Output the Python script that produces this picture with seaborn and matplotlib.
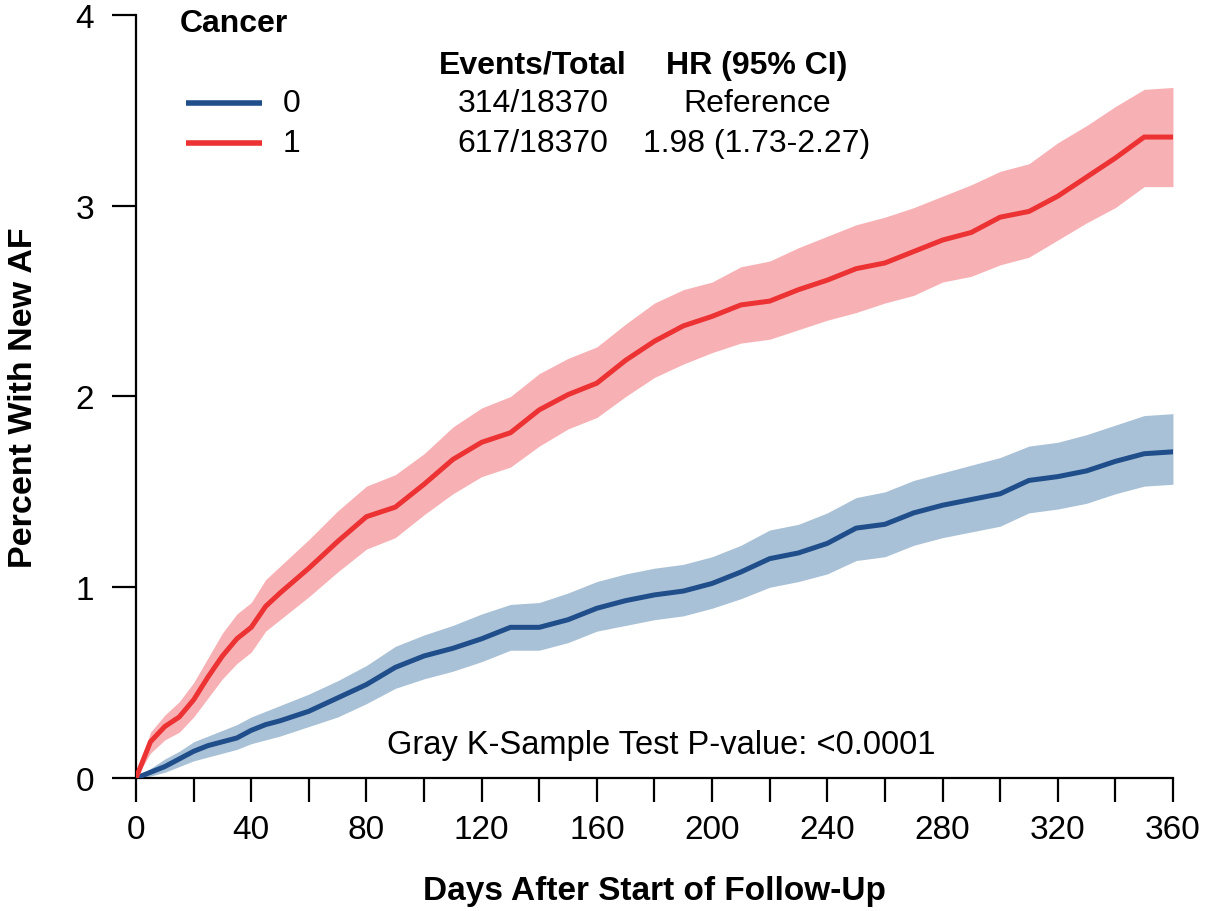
import numpy as np
import pandas as pd
import matplotlib
matplotlib.use('Agg')
import matplotlib.pyplot as plt
import seaborn as sns

# Datos (días de seguimiento y % con FA nueva)
dias = [0, 5, 10, 15, 20, 25, 30, 35, 40, 45, 50, 60, 70, 80, 90, 100, 110, 120,
        130, 140, 150, 160, 170, 180, 190, 200, 210, 220, 230, 240, 250, 260,
        270, 280, 290, 300, 310, 320, 330, 340, 350, 360]

cancer0_est = [0, 0.03, 0.06, 0.10, 0.14, 0.17, 0.19, 0.21, 0.25, 0.28, 0.30, 0.35,
               0.42, 0.49, 0.58, 0.64, 0.68, 0.73, 0.79, 0.79, 0.83, 0.89, 0.93,
               0.96, 0.98, 1.02, 1.08, 1.15, 1.18, 1.23, 1.31, 1.33, 1.39, 1.43,
               1.46, 1.49, 1.56, 1.58, 1.61, 1.66, 1.70, 1.71]
cancer0_low = [0, 0.01, 0.03, 0.06, 0.09, 0.11, 0.13, 0.15, 0.18, 0.20, 0.22, 0.27,
               0.32, 0.39, 0.47, 0.52, 0.56, 0.61, 0.67, 0.67, 0.71, 0.77, 0.80,
               0.83, 0.85, 0.89, 0.94, 1.00, 1.03, 1.07, 1.14, 1.16, 1.22, 1.26,
               1.29, 1.32, 1.39, 1.41, 1.44, 1.49, 1.53, 1.54]
cancer0_up = [0, 0.05, 0.10, 0.14, 0.19, 0.22, 0.25, 0.28, 0.32, 0.35, 0.38, 0.44,
              0.51, 0.59, 0.69, 0.75, 0.80, 0.86, 0.91, 0.92, 0.97, 1.03, 1.07,
              1.10, 1.12, 1.16, 1.22, 1.30, 1.33, 1.39, 1.47, 1.50, 1.56, 1.60,
              1.64, 1.68, 1.74, 1.76, 1.80, 1.85, 1.90, 1.91]

cancer1_est = [0, 0.19, 0.27, 0.32, 0.41, 0.53, 0.64, 0.73, 0.79, 0.90, 0.97, 1.10,
               1.24, 1.37, 1.42, 1.54, 1.67, 1.76, 1.81, 1.93, 2.01, 2.07, 2.19,
               2.29, 2.37, 2.42, 2.48, 2.50, 2.56, 2.61, 2.67, 2.70, 2.76, 2.82,
               2.86, 2.94, 2.97, 3.05, 3.15, 3.25, 3.36, 3.36]
cancer1_low = [0, 0.13, 0.20, 0.24, 0.32, 0.42, 0.52, 0.60, 0.66, 0.77, 0.83, 0.95,
               1.08, 1.20, 1.26, 1.38, 1.49, 1.58, 1.63, 1.74, 1.83, 1.89, 2.00,
               2.10, 2.17, 2.23, 2.28, 2.30, 2.35, 2.40, 2.44, 2.49, 2.53, 2.60,
               2.63, 2.69, 2.73, 2.82, 2.91, 2.99, 3.10, 3.10]
cancer1_up = [0, 0.24, 0.33, 0.40, 0.50, 0.63, 0.76, 0.86, 0.92, 1.04, 1.11, 1.25,
              1.40, 1.53, 1.59, 1.70, 1.84, 1.94, 2.00, 2.12, 2.20, 2.26, 2.38,
              2.49, 2.56, 2.60, 2.68, 2.71, 2.78, 2.84, 2.90, 2.94, 2.99, 3.05,
              3.11, 3.18, 3.22, 3.33, 3.42, 3.52, 3.61, 3.62]

grupos = ['0', '1']
eventos = ['314/18370', '617/18370']
hr = ['Reference', '1.98 (1.73-2.27)']

color_linea = {'0': '#1f4e8b', '1': '#ec3233'}
color_banda = {'0': '#a9c1d6', '1': '#f7b1b5'}

df = pd.DataFrame({
    'dias': dias * 2,
    'pct': cancer0_est + cancer1_est,
    'low': cancer0_low + cancer1_low,
    'up': cancer0_up + cancer1_up,
    'Cancer': ['0'] * len(dias) + ['1'] * len(dias),
})

sns.set_style('ticks')
plt.rcParams['font.family'] = ['Liberation Sans', 'DejaVu Sans']
plt.rcParams['text.color'] = 'black'
plt.rcParams['axes.labelcolor'] = 'black'
plt.rcParams['xtick.color'] = 'black'
plt.rcParams['ytick.color'] = 'black'

fig = plt.figure(figsize=(12.07, 9.12), dpi=100)
ax = fig.add_axes([0.1127, 0.1458, 0.8591, 0.8367])

# Bandas de confianza
for g in grupos:
    sub = df[df['Cancer'] == g]
    ax.fill_between(sub['dias'], sub['low'], sub['up'],
                    color=color_banda[g], linewidth=0, zorder=1)

sns.lineplot(data=df, x='dias', y='pct', hue='Cancer', palette=color_linea,
             linewidth=3.6, legend=False, ax=ax, zorder=3)

ax.set_xlim(0, 360)
ax.set_ylim(0, 4)
ax.set_xticks(range(0, 361, 40))
ax.set_xticks(range(20, 361, 40), minor=True)
ax.set_yticks([0, 1, 2, 3, 4])
ax.tick_params(axis='both', which='both', direction='out', length=17,
               width=1.6, color='black', labelcolor='black', labelsize=24)
ax.tick_params(axis='x', which='both', pad=9)
ax.tick_params(axis='y', which='both', pad=13)
for s in ['top', 'right']:
    ax.spines[s].set_visible(False)
for s in ['left', 'bottom']:
    ax.spines[s].set_linewidth(1.6)
    ax.spines[s].set_color('black')

ax.set_xlabel('Days After Start of Follow-Up', fontsize=24, fontweight='bold')
ax.set_ylabel('Percent With New AF', fontsize=24.5, fontweight='bold')
ax.xaxis.set_label_coords(0.5, -0.127)
ax.yaxis.set_label_coords(-0.094, 0.5)

# Leyenda tipo tabla
ax.text(15.3, 3.96, 'Cancer', fontsize=23, fontweight='bold', va='center', ha='left')
ax.text(137.8, 3.74, 'Events/Total', fontsize=23, fontweight='bold', va='center', ha='center')
ax.text(215.6, 3.74, 'HR (95% CI)', fontsize=23, fontweight='bold', va='center', ha='center')
filas_y = [3.54, 3.33]
for g, ev, h, yy in zip(grupos, eventos, hr, filas_y):
    ax.plot([17.4, 43.7], [yy, yy], color=color_linea[g], linewidth=4, solid_capstyle='butt')
    ax.text(51, yy, g, fontsize=23, va='center', ha='left')
    ax.text(137.8, yy, ev, fontsize=23, va='center', ha='center')
    ax.text(215.6, yy, h, fontsize=23, va='center', ha='center')

ax.text(182.2, 0.178, 'Gray K-Sample Test P-value: <0.0001', fontsize=23.5,
        va='center', ha='center')

plt.savefig('out.png', dpi=100)
plt.close()
